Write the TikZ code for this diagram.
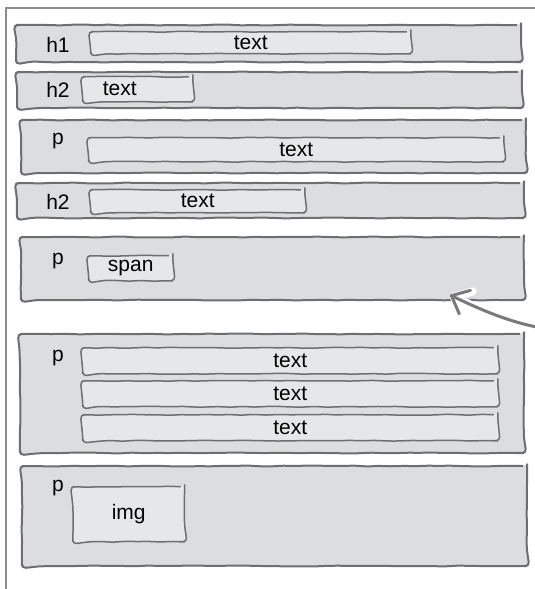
\documentclass[tikz,border=0pt]{standalone}
\usepackage{fontspec}
\setmainfont{Liberation Sans}
\usetikzlibrary{arrows.meta, positioning, decorations.pathmorphing}

\definecolor{edgegray}{HTML}{6D6E71}
\definecolor{blockgray}{HTML}{DCDDDF}
\definecolor{innergray}{HTML}{E6E7E8}
\definecolor{framegray}{HTML}{8C8C8C}
\definecolor{arrowgray}{HTML}{7A7A7C}

\begin{document}
\begin{tikzpicture}[
    x=1pt, y=-1pt,
    every node/.style={font=\fontsize{21}{24}\selectfont, text=black},
    sketchy/.style={decorate, decoration={random steps, segment length=12pt, amplitude=0.5pt}, rounded corners=4pt},
    block/.style={sketchy, draw=edgegray, fill=blockgray, line width=2pt, anchor=north west, inner sep=0pt, outer sep=0pt, minimum width=505pt},
    inbox/.style={sketchy, draw=edgegray, fill=innergray, line width=1.5pt, anchor=north west, inner sep=0pt},
    tag/.style={anchor=base, inner sep=0pt},
    frame/.style={draw=framegray, line width=2.2pt},
    pointer/.style={draw=arrowgray, line width=3pt, line cap=round, -{Straight Barb[length=15pt, width=26pt, round]}},
    halo/.style={pointer, draw=white, line width=8pt}
]
\pgfmathsetseed{7}
\useasboundingbox (0,0) rectangle (535,589);

% page edge
\draw[frame] (6,589) -- (6,8) -- (535,8);

% elements
\node[block, minimum height=37pt] (hone) at (16,25) {};
\node[block, minimum height=36pt, below=10pt of hone.south west, anchor=north west, xshift=1pt] (htwo) {};
\node[block, minimum height=53pt, below=12pt of htwo.south west, anchor=north west, xshift=4pt] (ptext) {};
\node[block, minimum height=35pt, below=10pt of ptext.south west, anchor=north west, xshift=-4pt, minimum width=507pt] (htwob) {};
\node[block, minimum height=63pt, below=19pt of htwob.south west, anchor=north west, xshift=4pt, minimum width=503pt] (pspan) {};
\node[block, minimum height=119pt, below=34pt of pspan.south west, anchor=north west, xshift=-1pt, minimum width=504pt] (plines) {};
\node[block, minimum height=100pt, below=13pt of plines.south west, anchor=north west, xshift=2pt] (pimg) {};

% tags
\node[tag] (lhone) at (58,52) {h1};
\node[tag] (lhtwo) at (58,97) {h2};
\node[tag] (lptext) at (58,144) {p};
\node[tag] (lhtwob) at (58,209) {h2};
\node[tag] (lpspan) at (58,264) {p};
\node[tag] (lplines) at (58,361) {p};
\node[tag] (lpimg) at (58,491) {p};

% contents
\node[inbox, minimum width=320pt, minimum height=22pt] (thone) at (90,31) {text};
\node[inbox, minimum width=110pt, minimum height=25pt, text width=70pt, inner xsep=20pt, align=left] (thtwo) at (82,76) {text};
\node[inbox, minimum width=415pt, minimum height=24pt] (tptext) at (88,137) {text};
\node[inbox, minimum width=214pt, minimum height=23pt] (thtwob) at (90,189) {text};
\node[inbox, minimum width=84pt, minimum height=25pt] (tspan) at (88,255) {span};
\foreach \y/\n in {347/a, 380/b, 414/c}
  \node[inbox, minimum width=415pt, minimum height=26pt] (line\n) at (82,\y) {text};
\node[inbox, minimum width=112pt, minimum height=55pt] (timg) at (72,486) {img};

% pointer
\coordinate (tail) at (537,327);
\coordinate (aim) at (450,295);
\draw[halo] (tail) .. controls (505,321) and (473,306) .. (aim);
\draw[pointer] (tail) .. controls (505,321) and (473,306) .. (aim);

\end{tikzpicture}
\end{document}
